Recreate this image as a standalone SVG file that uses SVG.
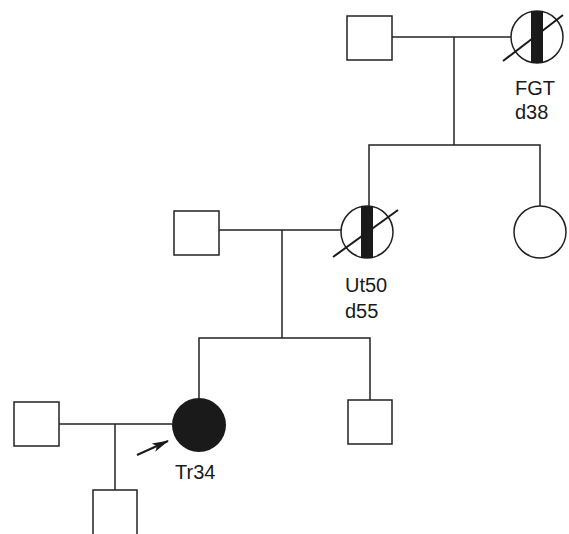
<svg xmlns="http://www.w3.org/2000/svg" width="569" height="534" viewBox="0 0 569 534">
<style>
.ln{stroke:#222;stroke-width:1.5;fill:none}
.dg{stroke:#1a1a1a;stroke-width:2;fill:none}
.sq{stroke:#222;stroke-width:1.5;fill:#fff}
.ci{stroke:#222;stroke-width:1.5;fill:#fff}
.bar{fill:#1a1a1a}
.lbl{font-family:"Liberation Sans",Arial,sans-serif;font-size:20px;fill:#1a1a1a}
</style>
<defs>
<marker id="ah" markerWidth="17" markerHeight="9" refX="16" refY="4.5" orient="auto" markerUnits="userSpaceOnUse">
<path d="M0,0 L17,4.5 L0,9 L4,4.5 Z" fill="#1a1a1a"/>
</marker>
</defs>
<g id="connectors">
<line class="ln" x1="392" y1="37" x2="511" y2="37"/>
<line class="ln" x1="454" y1="37" x2="454" y2="145"/>
<polyline class="ln" points="369,206 369,145 540,145 540,206"/>
<line class="ln" x1="219" y1="230" x2="341" y2="230"/>
<line class="ln" x1="282" y1="230" x2="282" y2="338"/>
<polyline class="ln" points="199,398 199,338 370,338 370,400"/>
<line class="ln" x1="59" y1="424" x2="172" y2="424"/>
<line class="ln" x1="115" y1="424" x2="115" y2="490"/>
<line class="dg" x1="137" y1="455" x2="168" y2="441" marker-end="url(#ah)"/>
</g>
<g id="gf-father">
<rect class="sq" x="347" y="16" width="45" height="44"/>
</g>
<g id="gf-mother">
<circle class="ci" cx="537" cy="37" r="26"/>
<rect class="bar" x="531" y="11" width="12" height="52"/>
<line class="dg" x1="503" y1="61" x2="563" y2="15"/>
<text class="lbl" x="515" y="95">FGT</text>
<text class="lbl" x="515" y="119">d38</text>
</g>
<g id="father">
<rect class="sq" x="174" y="211" width="45" height="44"/>
</g>
<g id="mother">
<circle class="ci" cx="367" cy="232" r="26"/>
<rect class="bar" x="361" y="206" width="12" height="52"/>
<line class="dg" x1="333" y1="257" x2="398" y2="210"/>
<text class="lbl" x="345" y="292">Ut50</text>
<text class="lbl" x="345" y="318">d55</text>
</g>
<g id="aunt">
<circle class="ci" cx="540" cy="232" r="26"/>
</g>
<g id="husband">
<rect class="sq" x="14" y="402" width="45" height="44"/>
</g>
<g id="proband">
<circle cx="199" cy="425" r="27" fill="#1a1a1a"/>
<text class="lbl" x="175" y="479">Tr34</text>
</g>
<g id="brother">
<rect class="sq" x="348" y="400" width="44" height="44"/>
</g>
<g id="son">
<rect class="sq" x="93" y="490" width="44" height="50"/>
</g>
</svg>
